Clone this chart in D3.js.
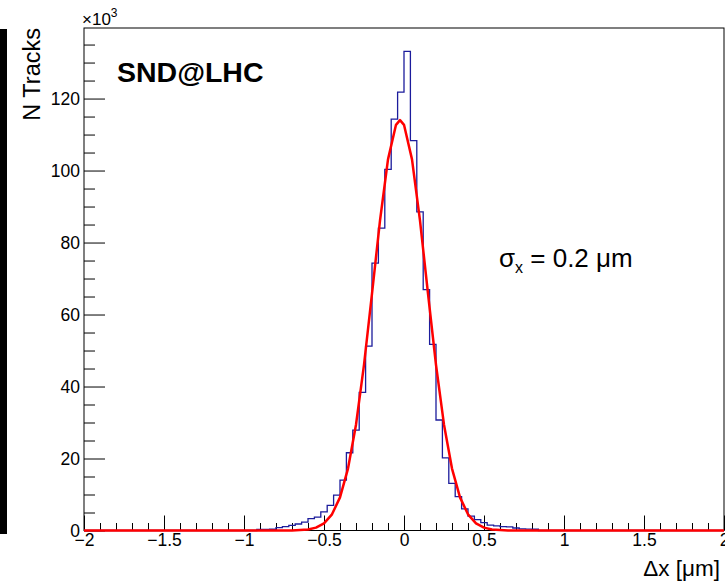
<!DOCTYPE html>
<html>
<head>
<meta charset="utf-8">
<script src="https://cdn.jsdelivr.net/npm/d3@7"></script>
<style>
  body { margin: 0; background: #fff; }
  svg { display: block; font-family: "Liberation Sans", Arial, Helvetica, sans-serif; }
</style>
</head>
<body>
<div id="chart"></div>
<script>
// Histogram: bin width 0.04, non-empty bins start at -0.96 (values in units of 10^3)
const binWidth = 0.04;
const firstEdge = -0.96;
const counts = [
  0, 0.3, 0.3, 0.35, 0.8, 1.1, 1.4, 1.8, 2.3, 3.3,
  3.7, 5.2, 7.0, 9.8, 14.0, 21.6, 27.9, 38.4, 51.2, 74.3,
  84.0, 100.3, 114.3, 121.8, 133.1, 108.3, 88.5, 66.9, 51.7, 30.7,
  20.2, 13.1, 9.4, 6.0, 4.0, 3.0, 2.2, 1.5, 1.3, 1.1,
  1.0, 0.7, 0.45, 0.4, 0.35, 0
];

// Gaussian fit curve
const fitX = [-2, -0.8, -0.7, -0.6, -0.55, -0.5, -0.45, -0.4, -0.35, -0.3, -0.25, -0.2, -0.15, -0.1, -0.05, -0.025,
              0, 0.05, 0.1, 0.15, 0.2, 0.25, 0.3, 0.35, 0.4, 0.45, 0.5, 0.55, 0.65, 0.75, 2];
const fitY = [0, 0, 0.03, 0.3, 0.8, 2.0, 4.5, 9.2, 17.2, 29.4, 46.0, 65.8, 86.1, 103.1, 112.7, 114.0,
              112.7, 103.1, 86.1, 65.8, 46.0, 29.4, 17.2, 9.2, 4.5, 2.0, 0.8, 0.3, 0.03, 0, 0];

const xMajor = [-2, -1.5, -1, -0.5, 0, 0.5, 1, 1.5, 2];
const yMajor = [0, 20, 40, 60, 80, 100, 120];

const width = 725, height = 584;
const frame = {left: 84, right: 724, top: 28, bottom: 530.5};

const svg = d3.select("#chart").append("svg")
    .attr("width", width)
    .attr("height", height);

const x = d3.scaleLinear([-2, 2], [frame.left, frame.right]);
const y = d3.scaleLinear([0, 139.6], [frame.bottom, frame.top]);

// black strip on the left edge
svg.append("rect")
    .attr("x", 0).attr("y", 29)
    .attr("width", 7).attr("height", 505)
    .attr("fill", "#000");

// x axis: major + minor ticks pointing up
const xMinor = d3.range(-20, 21).map(d => d / 10).filter(d => Math.abs(d * 2 - Math.round(d * 2)) > 1e-6);
svg.append("g")
    .attr("transform", `translate(0,${frame.bottom})`)
    .call(d3.axisBottom(x).tickValues(xMinor).tickSize(-7.5).tickFormat(""))
    .call(g => g.select(".domain").remove());
svg.append("g")
    .attr("transform", `translate(0,${frame.bottom})`)
    .call(d3.axisBottom(x).tickValues(xMajor).tickSize(-15).tickPadding(3).tickFormat(d3.format("")))
    .call(g => g.select(".domain").remove())
    .call(g => g.selectAll("text").attr("font-size", 17.5).attr("fill", "#000"));

// y axis: ticks pointing right
const yMinor = d3.range(0, 140, 5).filter(d => d % 20 !== 0);
svg.append("g")
    .attr("transform", `translate(${frame.left},0)`)
    .call(d3.axisLeft(y).tickValues(yMinor).tickSize(-11).tickFormat(""))
    .call(g => g.select(".domain").remove());
svg.append("g")
    .attr("transform", `translate(${frame.left},0)`)
    .call(d3.axisLeft(y).tickValues(yMajor).tickSize(-21).tickPadding(4))
    .call(g => g.select(".domain").remove())
    .call(g => g.selectAll("text").attr("font-size", 17.5).attr("fill", "#000"));

svg.selectAll(".tick line").attr("stroke", "#000");

// frame
svg.append("rect")
    .attr("x", frame.left).attr("y", frame.top)
    .attr("width", frame.right - frame.left)
    .attr("height", frame.bottom - frame.top)
    .attr("fill", "none")
    .attr("stroke", "#000")
    .attr("stroke-width", 1);

// histogram outline
const steps = [[-2, 0], [firstEdge, 0]];
counts.forEach((c, i) => steps.push([firstEdge + i * binWidth, c]));
steps.push([firstEdge + counts.length * binWidth, 0], [2, 0]);
svg.append("path")
    .datum(steps)
    .attr("fill", "none")
    .attr("stroke", "#1c1c9c")
    .attr("stroke-width", 1.3)
    .attr("d", d3.line().x(d => x(d[0])).y(d => y(d[1])).curve(d3.curveStepAfter));

// fit
svg.append("path")
    .datum(fitX.map((d, i) => [d, fitY[i]]))
    .attr("fill", "none")
    .attr("stroke", "#ff0000")
    .attr("stroke-width", 2.5)
    .attr("stroke-linejoin", "round")
    .attr("d", d3.line().x(d => x(d[0])).y(d => y(d[1])));

// texts
const exp = svg.append("text")
    .attr("x", 82).attr("y", 25)
    .attr("font-size", 17);
exp.append("tspan").text("×10");
exp.append("tspan").attr("font-size", 12).attr("dy", -8).text("3");

svg.append("text")
    .attr("x", 117).attr("y", 82)
    .attr("font-size", 28.5)
    .attr("font-weight", "bold")
    .text("SND@LHC");

const sig = svg.append("text")
    .attr("x", 499).attr("y", 267)
    .attr("font-size", 26);
sig.append("tspan").text("σ");
sig.append("tspan").attr("font-size", 16).attr("dy", 6).text("x");
sig.append("tspan").attr("dy", -6).text(" = 0.2 μm");

svg.append("text")
    .attr("transform", "rotate(-90)")
    .attr("x", -28).attr("y", 40)
    .attr("text-anchor", "end")
    .attr("font-size", 23.5)
    .text("N Tracks");

svg.append("text")
    .attr("x", 720).attr("y", 576)
    .attr("text-anchor", "end")
    .attr("font-size", 22.5)
    .text("Δx [μm]");
</script>
</body>
</html>
